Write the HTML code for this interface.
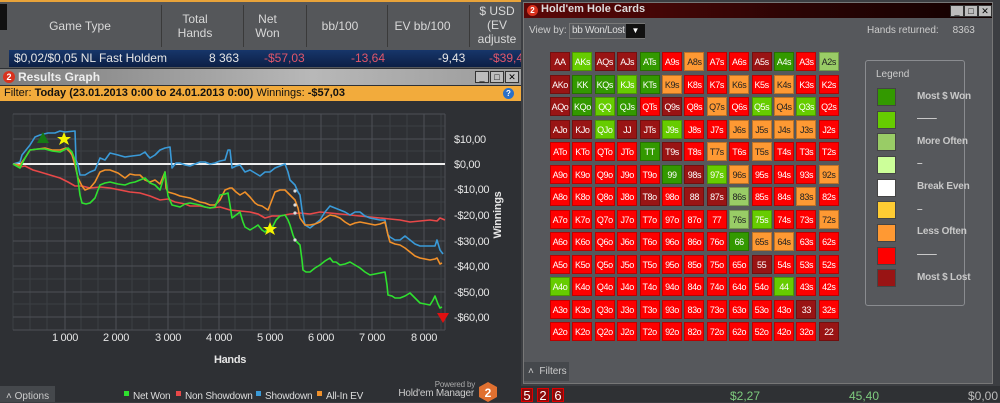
<!DOCTYPE html>
<html><head><meta charset="utf-8"><style>
*{margin:0;padding:0;box-sizing:border-box}
body{width:1000px;height:402px;overflow:hidden;background:#3a3c40;font-family:"Liberation Sans",sans-serif;position:relative}
.a{position:absolute}
.hd{color:#d8d8d8;font-size:12px;text-align:center;line-height:14px}
.cell{position:absolute;width:20px;height:19px;font-size:9px;line-height:19px;text-align:center;color:#fff;border:1px solid rgba(0,0,0,.25);letter-spacing:-0.4px;white-space:nowrap;overflow:hidden}
.dr{background:#991414}.r{background:#fe0000}.o{background:#fe9933;color:#222}.lg{background:#99cc66;color:#222}.li{background:#66cc00}.dg{background:#339900}
.lgt{position:absolute;left:917px;font-size:10px;font-weight:bold;color:#c8c8c8;letter-spacing:-0.2px}
.sw{position:absolute;left:877px;width:19px;height:18px;border:1px solid #444}
.btn{position:absolute;width:14px;height:12px;background:#bdbdbd;border:1px solid #333;font-size:9px;line-height:10px;text-align:center;color:#000}
</style></head><body>
<div class="a" style="left:0;top:0;width:521px;height:68px;background:#55575a;border-top:2px solid #e8a33a"></div>
<div class="a" style="left:0;top:4px;width:7px;height:26px;background:#111"></div>
<div class="a hd" style="left:30px;top:19px;width:100px">Game Type</div>
<div class="a hd" style="left:165px;top:12px;width:60px">Total<br>Hands</div>
<div class="a hd" style="left:245px;top:12px;width:45px">Net<br>Won</div>
<div class="a hd" style="left:310px;top:19px;width:60px">bb/100</div>
<div class="a hd" style="left:390px;top:19px;width:65px">EV bb/100</div>
<div class="a hd" style="left:472px;top:4px;width:50px">$ USD<br>(EV<br>adjuste</div>
<div class="a" style="left:161px;top:5px;width:1px;height:42px;background:#3a3a3a"></div>
<div class="a" style="left:243px;top:5px;width:1px;height:42px;background:#3a3a3a"></div>
<div class="a" style="left:306px;top:5px;width:1px;height:42px;background:#3a3a3a"></div>
<div class="a" style="left:387px;top:5px;width:1px;height:42px;background:#3a3a3a"></div>
<div class="a" style="left:469px;top:5px;width:1px;height:42px;background:#3a3a3a"></div>
<div class="a" style="left:9px;top:50px;width:512px;height:17px;background:linear-gradient(#17366a,#0c1f45);font-size:12px;line-height:17px;color:#e6e6e6;overflow:hidden">
<span class="a" style="left:5px">$0,02/$0,05 NL Fast Holdem</span>
<span class="a" style="left:200px">8 363</span>
<span class="a" style="left:255px;color:#e0566a">-$57,03</span>
<span class="a" style="left:342px;color:#e0566a">-13,64</span>
<span class="a" style="left:429px">-9,43</span>
<span class="a" style="left:480px;color:#e0566a">-$39,4</span></div>
<div class="a" style="left:0;top:68px;width:521px;height:334px;background:#2e3034"></div>
<div class="a" style="left:0;top:69px;width:521px;height:16px;background:linear-gradient(90deg,#7c7c7c,#b8b8b8 60%,#9a9a9a)"></div>
<div class="a" style="left:3px;top:71px;width:12px;height:12px;border-radius:6px;background:#d8321e;color:#fff;font-size:9px;font-weight:bold;text-align:center;line-height:12px">2</div>
<div class="a" style="left:18px;top:70px;font-size:12px;font-weight:bold;color:#eee">Results Graph</div>
<div class="btn" style="left:475px;top:71px">_</div><div class="btn" style="left:490px;top:71px">□</div><div class="btn" style="left:505px;top:71px">✕</div>
<div class="a" style="left:0;top:86px;width:521px;height:15px;background:#f2ab3c;font-size:11px;line-height:15px;color:#111;padding-left:4px">Filter: <b>Today (23.01.2013 0:00 to 24.01.2013 0:00)</b> Winnings: <b>-$57,03</b></div>
<div class="a" style="left:503px;top:88px;width:11px;height:11px;border-radius:6px;background:#2a70c8;color:#fff;font-size:8px;text-align:center;line-height:11px;font-weight:bold">?</div>
<svg class="a" style="left:0;top:100px" width="521" height="302">
<g transform="translate(0,-100)">
<g stroke="#3c3f44" stroke-width="1">
<path d="M13 114V330M30 114V330M47 114V330M81 114V330M98 114V330M132 114V330M149 114V330M184 114V330M201 114V330M235 114V330M252 114V330M287 114V330M304 114V330M338 114V330M355 114V330M390 114V330M407 114V330M441 114V330"/>
<path d="M13 126H445M13 151H445M13 177H445M13 202H445M13 228H445M13 253H445M13 279H445M13 304H445"/>
</g>
<g stroke="#4d5056" stroke-width="1">
<path d="M65 114V330M116 114V330M168 114V330M219 114V330M270 114V330M321 114V330M372 114V330M424 114V330M445 114V330"/>
<path d="M13 114H445M13 139H445M13 189H445M13 215H445M13 241H445M13 266H445M13 292H445M13 317H445M13 330H445"/>
</g>
<line x1="13" y1="164" x2="445" y2="164" stroke="#eee" stroke-width="2"/>
<g fill="none" stroke-width="1.6" stroke-linejoin="round">
<polyline stroke="#e84848" points="13,164 20,167 25,166 33,170 40,172 50,175 60,178 68,182 75,186 82,186 90,188 100,187 110,188 120,190 130,192 140,193 150,196 160,200 168,199 175,202 185,204 190,206 200,206 210,208 220,207 230,210 240,211 250,212 258,214 265,218 272,216 280,216 290,214 300,213 310,214 320,212 330,213 340,214 350,215 360,216 370,217 380,218 390,219 400,220 410,222 420,221 430,220 437,221 440,218 445,220"/>
<polyline stroke="#3a9ad8" points="13,164 20,162 22,155 30,145 35,137 40,135 48,133 55,133 60,131 65,132 75,131 76,160 78,165 80,175 85,175 90,172 95,170 100,158 105,160 110,153 118,155 125,157 132,156 140,155 145,152 148,156 150,158 155,155 160,150 165,148 170,147 172,168 176,163 180,163 185,165 190,166 195,164 200,162 205,162 210,164 215,163 220,161 225,160 228,150 230,150 232,168 236,166 240,165 245,172 250,170 255,173 260,176 265,172 270,172 275,168 280,166 285,164 288,172 290,180 295,185 298,192 300,195 302,210 305,225 310,228 315,224 320,220 325,212 330,206 335,208 340,210 345,212 350,215 355,212 360,212 365,216 370,218 375,219 380,220 385,220 388,235 390,237 395,240 400,240 405,236 410,240 415,244 420,246 430,246 435,246 437,240 440,250 443,254"/>
<polyline stroke="#f0902a" points="13,164 20,165 25,158 30,150 38,149 45,148 52,150 60,150 66,148 70,152 72,155 75,165 78,178 82,186 85,190 90,188 95,182 100,172 105,170 110,170 118,173 125,178 130,174 135,175 140,175 145,180 150,182 155,180 160,184 165,172 166,188 168,192 175,194 180,196 185,197 190,198 195,200 200,202 205,203 210,205 215,205 220,200 225,190 230,188 232,188 236,192 240,195 245,192 250,197 255,203 258,205 262,206 268,210 270,205 275,192 280,190 285,190 290,195 295,200 298,208 300,218 305,225 310,225 315,224 320,222 325,218 330,215 335,216 340,218 345,222 350,225 355,223 360,222 365,223 370,224 375,225 380,224 385,222 388,235 390,242 395,244 400,245 405,248 410,252 415,256 420,258 425,259 430,260 435,259 437,258 440,264 442,263"/>
<polyline stroke="#2fe02f" points="13,164 20,168 25,158 30,150 38,149 45,149 52,151 60,152 64,150 68,148 72,152 75,160 78,180 80,195 82,203 86,204 90,203 95,198 98,190 100,185 105,183 110,182 118,184 125,185 130,183 135,182 140,180 145,178 150,183 155,185 160,190 163,180 165,172 168,196 172,205 176,206 180,207 185,204 190,203 195,204 200,205 205,207 210,208 215,207 218,200 220,195 225,194 228,193 230,205 232,218 236,215 240,212 243,222 245,227 250,230 255,227 258,225 262,230 265,232 268,229 272,228 276,220 280,216 285,215 288,220 290,225 293,235 295,240 300,245 302,260 303,270 306,272 310,272 315,268 320,265 325,261 330,258 333,262 336,262 340,265 345,264 350,262 355,265 360,268 365,272 370,275 375,274 380,273 385,272 387,285 388,295 392,296 395,298 400,298 405,296 410,293 415,298 420,303 425,304 430,305 433,300 435,296 438,304 440,308 442,307"/>
</g>
<g fill="#ddd"><circle cx="295" cy="191" r="1.6"/><circle cx="295" cy="205" r="1.6"/><circle cx="295" cy="213" r="1.6"/><circle cx="295" cy="240" r="1.6"/></g>
<polygon points="43,132 49,143 37,143" fill="#157a15"/>
<polygon points="64,132 66,137 71,137 67,140 69,145 64,142 59,145 61,140 57,137 62,137" fill="#f4f400"/>
<polygon points="270,222 272,227 277,227 273,230 275,235 270,232 265,235 267,230 263,227 268,227" fill="#f4f400"/>
<polygon points="437,313 449,313 443,323" fill="#e01010"/>
<g fill="#e6e6e6" font-size="11" font-family="Liberation Sans" letter-spacing="-0.3">
<text x="454" y="143">$10,00</text><text x="454" y="168">$0,00</text><text x="454" y="193">-$10,00</text><text x="454" y="219">-$20,00</text><text x="454" y="245">-$30,00</text><text x="454" y="270">-$40,00</text><text x="454" y="296">-$50,00</text><text x="454" y="321">-$60,00</text>
<g text-anchor="middle"><text x="65" y="341">1 000</text><text x="116" y="341">2 000</text><text x="168" y="341">3 000</text><text x="219" y="341">4 000</text><text x="270" y="341">5 000</text><text x="321" y="341">6 000</text><text x="372" y="341">7 000</text><text x="424" y="341">8 000</text></g>
<text x="230" y="363" text-anchor="middle" font-weight="bold">Hands</text>
<text transform="translate(501,215) rotate(-90)" text-anchor="middle" font-weight="bold">Winnings</text>
</g>
<g font-size="10" font-family="Liberation Sans" fill="#ddd" letter-spacing="-0.2">
<rect x="124" y="391" width="5" height="5" fill="#2ee02e"/><text x="133" y="399">Net Won</text>
<rect x="176" y="391" width="5" height="5" fill="#e84848"/><text x="185" y="399">Non Showdown</text>
<rect x="256" y="391" width="5" height="5" fill="#3a9ad8"/><text x="265" y="399">Showdown</text>
<rect x="317" y="391" width="5" height="5" fill="#f0902a"/><text x="326" y="399">All-In EV</text>
<text x="475" y="387" text-anchor="end" font-size="8" fill="#aaa">Powered by</text>
<text x="474" y="396" text-anchor="end" fill="#ccc">Hold'em Manager</text>
</g>
<polygon points="488,382 497,387 497,397 488,402 479,397 479,387" fill="#e07030"/>
<text x="488" y="397" text-anchor="middle" font-size="12" font-weight="bold" fill="#fff" font-family="Liberation Sans">2</text>
<rect x="0" y="386" width="55" height="16" fill="#45484c"/>
<text x="6" y="399" font-size="10" fill="#ccc" font-family="Liberation Sans">˄  Options</text>
</g></svg>
<div class="a" style="left:521px;top:0;width:479px;height:402px;background:#3c3e42"></div>
<div class="a" style="left:523px;top:2px;width:470px;height:382px;background:#56585c;border:1px solid #777"></div>
<div class="a" style="left:524px;top:3px;width:468px;height:15px;background:linear-gradient(90deg,#5c0808,#2a0404 60%,#100)"></div>
<div class="a" style="left:527px;top:5px;width:11px;height:11px;border-radius:6px;background:#d8321e;color:#fff;font-size:8px;font-weight:bold;text-align:center;line-height:11px">2</div>
<div class="a" style="left:541px;top:3px;font-size:11px;font-weight:bold;color:#ddd">Hold'em Hole Cards</div>
<div class="btn" style="left:950px;top:5px">_</div><div class="btn" style="left:964px;top:5px">□</div><div class="btn" style="left:978px;top:5px">✕</div>
<div class="a" style="left:529px;top:25px;font-size:10px;color:#ccc">View by:</div>
<div class="a" style="left:569px;top:23px;width:76px;height:16px;border:1px solid #777;background:#55575b;font-size:10px;color:#ddd;line-height:14px;padding-left:2px;letter-spacing:-0.3px">bb Won/Lost</div>
<div class="a" style="left:626px;top:24px;width:19px;height:14px;background:#111;color:#fff;font-size:8px;text-align:center;line-height:14px">▼</div>
<div class="a" style="left:867px;top:25px;font-size:10px;color:#ccc">Hands returned:&nbsp;&nbsp;&nbsp;&nbsp;&nbsp;8363</div>
<div id="g"></div>
<div class="a" style="left:865px;top:60px;width:100px;height:246px;border:1px solid #8a8c90;border-radius:3px"></div>
<div class="a" style="left:876px;top:69px;font-size:10px;color:#ccc">Legend</div>
<div class="sw" style="top:88px;background:#339900"></div><div class="lgt" style="top:91px">Most $ Won</div>
<div class="sw" style="top:111px;background:#66cc00"></div><div class="lgt" style="top:113px">——</div>
<div class="sw" style="top:133px;background:#99cc66"></div><div class="lgt" style="top:136px">More Often</div>
<div class="sw" style="top:156px;background:#ccff99"></div><div class="lgt" style="top:158px">–</div>
<div class="sw" style="top:179px;background:#fff"></div><div class="lgt" style="top:181px">Break Even</div>
<div class="sw" style="top:201px;background:#ffcc33"></div><div class="lgt" style="top:204px">–</div>
<div class="sw" style="top:224px;background:#ff9933"></div><div class="lgt" style="top:226px">Less Often</div>
<div class="sw" style="top:247px;background:#fe0000"></div><div class="lgt" style="top:249px">——</div>
<div class="sw" style="top:269px;background:#991414"></div><div class="lgt" style="top:272px">Most $ Lost</div>
<div class="a" style="left:524px;top:362px;width:45px;height:19px;background:#45484c;font-size:10px;color:#ccc;line-height:19px;padding-left:4px">˄&nbsp;&nbsp;Filters</div>
<div class="a" style="left:521px;top:386px;width:479px;height:16px;background:#2f3134"></div>
<div class="a" style="left:521px;top:388px;width:12px;height:14px;background:#8a0a0a;border:1px solid #d00;color:#fff;font-size:13px;line-height:13px;text-align:center">5</div>
<div class="a" style="left:537px;top:388px;width:12px;height:14px;background:#8a0a0a;border:1px solid #d00;color:#fff;font-size:13px;line-height:13px;text-align:center">2</div>
<div class="a" style="left:552px;top:388px;width:12px;height:14px;background:#8a0a0a;border:1px solid #d00;color:#fff;font-size:13px;line-height:13px;text-align:center">6</div>
<div class="a" style="left:730px;top:389px;font-size:12px;color:#7ecb7e">$2,27</div>
<div class="a" style="left:849px;top:389px;font-size:12px;color:#7ecb7e">45,40</div>
<div class="a" style="left:968px;top:389px;font-size:12px;color:#bbb">$0,00</div>
<script>
var R="AKQJT98765432".split("");
var C=["DLDDGRORRDGRA","DGGLGORRORORR","DGLGRDRORLOLR","DDLDDLRROOOOR","RRRRGDRORORRR","RRRRRGDLORRRO","RRRRDRDDARROR","RRRRRRRRALRRO","RRRRRRRRGOORR","RRRRRRRRRDRRR","LRRRRRRRRRLRR","RRRRRRRRRRRDR","RRRRRRRRRRRRD"];
var m={D:"dr",R:"r",O:"o",A:"lg",L:"li",G:"dg"},h="";
for(var i=0;i<13;i++)for(var j=0;j<13;j++){var t=i==j?R[i]+R[j]:(j>i?R[i]+R[j]+"s":R[j]+R[i]+"o");
h+='<div class="cell '+m[C[i][j]]+'" style="left:'+(550+j*22.4)+'px;top:'+(52+i*22.5)+'px">'+t+'</div>';}
document.getElementById("g").innerHTML=h;
</script>
</body></html>
